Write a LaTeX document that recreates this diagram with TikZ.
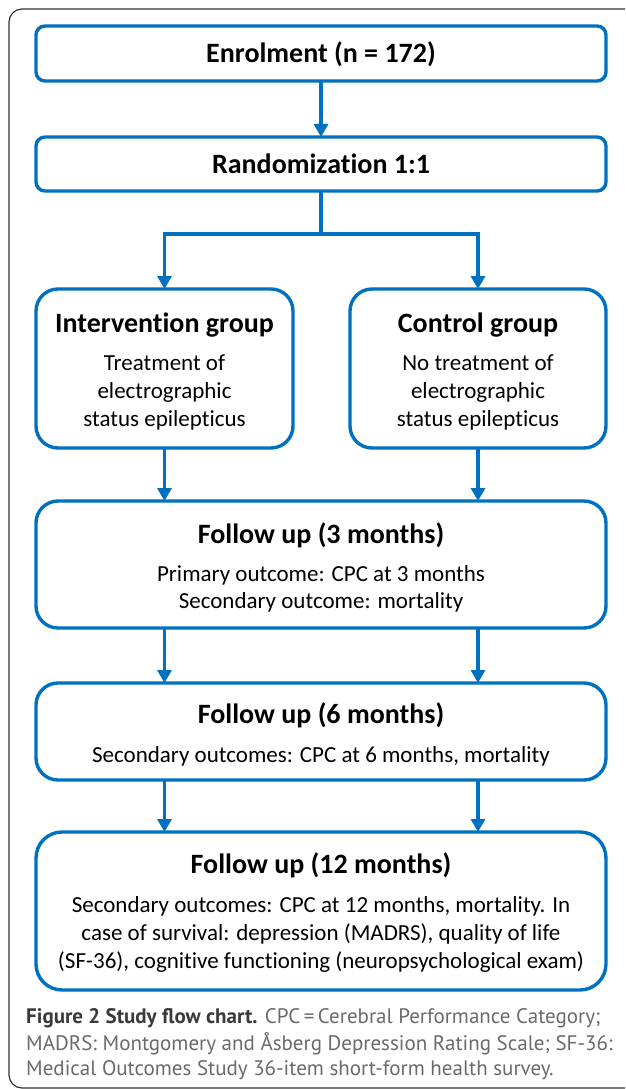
\documentclass[tikz,border=0pt]{standalone}
\usepackage{fontspec}
\setmainfont{Carlito}[Ligatures=NoCommon]
\newfontfamily\capfont{PT Sans}
\usetikzlibrary{arrows.meta}
\definecolor{fblue}{HTML}{0070C0}
\definecolor{capdark}{HTML}{3A3A3A}
\definecolor{capgray}{HTML}{6A6A6A}
\definecolor{framegray}{HTML}{333333}
\tikzset{
  box/.style={draw=fblue, line width=3.4pt, inner sep=0pt, outer sep=0pt, fill=white},
  smallbox/.style={box, rounded corners=9pt},
  bigbox/.style={box, rounded corners=22pt},
  conn/.style={draw=fblue, line width=3.4pt},
  arr/.style={conn, -{Triangle[width=14pt,length=13pt]}},
  ttl/.style={anchor=base, inner sep=0pt, font=\bfseries\fontsize{28}{32}\selectfont},
  bdy/.style={anchor=base, inner sep=0pt, font=\fontsize{23}{28}\selectfont},
  captext/.style={anchor=base west, inner sep=0pt, font=\capfont\fontsize{21}{25}\selectfont, text=capgray},
}
\begin{document}
\begin{tikzpicture}[x=1pt, y=-1pt]
\useasboundingbox (0,0) rectangle (625,1089);
\begin{scope}
\clip (0,0) rectangle (625,1089);
\draw[framegray, line width=1.2pt, rounded corners=13pt] (9,9) rectangle (660,1088);
\end{scope}

% boxes
\node[smallbox, minimum width=570pt, minimum height=55pt] (enrol) at (321,53.5) {};
\node[smallbox, minimum width=570pt, minimum height=54pt] (rand) at (321,164) {};
\node[bigbox, minimum width=257pt, minimum height=159pt] (interv) at (164.5,368.5) {};
\node[bigbox, minimum width=256pt, minimum height=159pt] (ctrl) at (478,368.5) {};
\node[bigbox, minimum width=570pt, minimum height=127pt] (fu3) at (321,564.5) {};
\node[bigbox, minimum width=570pt, minimum height=97pt] (fu6) at (321,731.5) {};
\node[bigbox, rounded corners=26pt, minimum width=570pt, minimum height=158pt] (fu12) at (321,911) {};

% connectors
\coordinate (br) at (321,234);
\draw[arr] (enrol.south) -- (rand.north);
\draw[conn] (rand.south) -- (br);
\draw[arr] (br) -| (interv.north);
\draw[arr] (br) -| (ctrl.north);
\draw[arr] (interv.south) -- (fu3.north -| interv);
\draw[arr] (ctrl.south) -- (fu3.north -| ctrl);
\draw[arr] (fu3.south -| interv) -- (fu6.north -| interv);
\draw[arr] (fu3.south -| ctrl) -- (fu6.north -| ctrl);
\draw[arr] (fu6.south -| interv) -- (fu12.north -| interv);
\draw[arr] (fu6.south -| ctrl) -- (fu12.north -| ctrl);

% texts
\node[ttl] (t1) at (321,63) {Enrolment (n = 172)};
\node[ttl] (t2) at (321,173) {Randomization 1:1};
\node[ttl] (t3) at (164.5,332) {Intervention group};
\node[bdy] (t3a) at (164.5,370) {Treatment of};
\node[bdy] (t3b) at (164.5,398) {electrographic};
\node[bdy] (t3c) at (164.5,426) {status epilepticus};
\node[ttl] (t4) at (478,332) {Control group};
\node[bdy] (t4a) at (478,370) {No treatment of};
\node[bdy] (t4b) at (478,398) {electrographic};
\node[bdy] (t4c) at (478,426) {status epilepticus};
\node[ttl] (t5) at (321,543) {Follow up (3 months)};
\node[bdy] (t5a) at (321,581) {Primary outcome: CPC at 3 months};
\node[bdy] (t5b) at (321,608) {Secondary outcome: mortality};
\node[ttl] (t6) at (321,723) {Follow up (6 months)};
\node[bdy] (t6a) at (321,762) {Secondary outcomes: CPC at 6 months, mortality};
\node[ttl] (t7) at (321,873) {Follow up (12 months)};
\node[bdy] (t7a) at (321,912) {Secondary outcomes: CPC at 12 months, mortality. In};
\node[bdy] (t7b) at (321,940) {case of survival: depression (MADRS), quality of life};
\node[bdy] (t7c) at (321,968) {(SF-36), cognitive functioning (neuropsychological exam)};

% caption
\node[captext] (c1) at (26,1023) {\textcolor{capdark}{\bfseries Figure 2 Study flow chart.} CPC\,=\,Cerebral Performance Category;};
\node[captext] (c2) at (26,1050) {MADRS: Montgomery and Åsberg Depression Rating Scale; SF-36:};
\node[captext] (c3) at (26,1075) {Medical Outcomes Study 36-item short-form health survey.};
\end{tikzpicture}
\end{document}
